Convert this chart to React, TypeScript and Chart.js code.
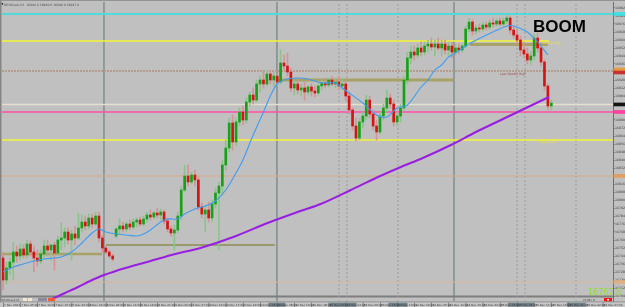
import React, { useEffect, useRef } from 'react';
import { Chart, registerables } from 'chart.js';
Chart.register(...registerables);

// ---- candle data (hourly bars) ----
const opens = [
  16742,16720,16732,16738,16748,16744,16751,16745,16756,16748,
  16742,16739,16746,16754,16750,16755,16747,16760,16762,16768,
  16760,16766,16762,16772,16778,16774,16782,16776,16784,16762,
  16752,16748,16744,16764,16771,16774,16771,16776,16773,16778,
  16780,16776,16781,16785,16783,16787,16785,16788,16779,16771,
  16767,16770,16784,16810,16824,16818,16825,16820,16793,16786,
  16790,16782,16796,16807,16814,16835,16852,16877,16858,16878,
  16888,16880,16898,16905,16900,16916,16920,16916,16926,16920,
  16924,16918,16937,16934,16928,16912,16916,16910,16912,16908,
  16913,16909,16907,16914,16917,16915,16920,16916,16918,16914,
  16916,16904,16890,16874,16862,16878,16884,16900,16886,16874,
  16868,16884,16892,16902,16896,16878,16884,16892,16920,16942,
  16948,16945,16952,16948,16954,16956,16953,16956,16952,16956,
  16950,16954,16948,16952,16950,16954,16971,16978,16969,16972,
  16971,16975,16973,16977,16976,16979,16976,16979,16982,16970,
  16965,16960,16950,16946,16940,16944,16962,16952,16938,16914,
  16894];
const highs = [
  16747,16738,16742,16758,16754,16756,16755,16760,16759,16754,
  16750,16750,16760,16760,16756,16758,16764,16777,16772,16772,
  16770,16774,16787,16785,16784,16786,16786,16788,16788,16765,
  16754,16750,16746,16772,16782,16778,16778,16780,16781,16782,
  16783,16784,16788,16790,16789,16792,16791,16790,16782,16774,
  16775,16788,16814,16835,16835,16828,16830,16823,16797,16794,
  16798,16800,16812,16818,16840,16860,16882,16885,16882,16892,
  16894,16902,16908,16912,16920,16924,16928,16930,16930,16928,
  16926,16950,16945,16947,16932,16920,16920,16916,16918,16915,
  16916,16914,16916,16920,16922,16922,16924,16922,16924,16922,
  16920,16908,16892,16882,16882,16888,16905,16904,16890,16880,
  16888,16896,16910,16906,16900,16888,16896,16924,16948,16954,
  16954,16956,16958,16958,16960,16962,16960,16962,16960,16960,
  16958,16958,16956,16956,16956,16974,16982,16980,16975,16976,
  16978,16978,16980,16982,16981,16982,16982,16985,16984,16974,
  16970,16964,16958,16952,16948,16966,16967,16954,16940,16916,
  16900];
const lows = [
  16710,16716,16725,16720,16738,16740,16742,16742,16744,16728,
  16734,16736,16742,16744,16740,16730,16744,16750,16753,16756,
  16740,16755,16760,16768,16770,16771,16772,16774,16758,16748,
  16746,16742,16739,16762,16766,16768,16768,16770,16771,16773,
  16774,16774,16778,16780,16781,16782,16780,16776,16768,16764,
  16750,16767,16780,16808,16814,16816,16814,16790,16782,16768,
  16778,16778,16792,16750,16805,16830,16848,16850,16854,16874,
  16875,16877,16894,16896,16898,16908,16912,16914,16916,16914,
  16914,16916,16930,16924,16908,16905,16906,16904,16900,16905,
  16904,16903,16905,16910,16912,16913,16914,16912,16910,16910,
  16900,16886,16870,16859,16860,16872,16880,16882,16870,16860,
  16866,16880,16888,16892,16874,16874,16878,16890,16916,16936,
  16940,16942,16944,16945,16948,16950,16944,16950,16944,16946,
  16944,16942,16945,16946,16948,16952,16968,16965,16966,16968,
  16969,16970,16971,16973,16974,16974,16974,16976,16966,16962,
  16956,16944,16942,16936,16935,16940,16948,16934,16910,16890,
  16890];
const closes = [
  16720,16732,16738,16748,16744,16751,16745,16756,16748,16742,
  16739,16746,16754,16750,16755,16747,16760,16762,16768,16760,
  16766,16762,16772,16778,16774,16782,16776,16784,16762,16752,
  16748,16744,16741,16771,16774,16771,16776,16773,16778,16780,
  16776,16781,16785,16783,16787,16785,16788,16779,16771,16767,
  16770,16784,16810,16824,16818,16825,16820,16793,16786,16790,
  16782,16796,16807,16814,16835,16852,16877,16858,16878,16888,
  16880,16898,16905,16900,16916,16920,16916,16926,16920,16924,
  16918,16937,16934,16928,16912,16916,16910,16912,16908,16913,
  16909,16907,16914,16917,16915,16920,16916,16918,16914,16916,
  16904,16890,16874,16862,16878,16884,16900,16886,16874,16868,
  16884,16892,16902,16896,16878,16884,16892,16920,16942,16948,
  16945,16952,16948,16954,16956,16953,16956,16952,16956,16950,
  16954,16948,16952,16950,16954,16971,16978,16969,16972,16971,
  16975,16973,16977,16976,16979,16976,16979,16982,16970,16965,
  16960,16950,16946,16940,16944,16962,16952,16938,16914,16894,
  16897];

// ---- moving averages (bar index, value) ----
const fastMaIdx = [0,3,6,9,12,15,17,20,23,26,28,30,33,36,39,41,43,46,48,51,53,56,59,62,65,68,70,73,76,78,80,83,87,90,93,97,99,101,105,109,112,115,118,122,124,126,128,130,132,137,143,147,149,153,156,159];
const fastMaVal = [16728,16733,16736,16739,16741,16742,16743,16748,16757,16767,16771,16768,16766,16765,16764,16766,16770,16778,16781,16781,16786,16791,16794,16799,16810,16827,16840,16865,16888,16904,16916,16921,16922,16920,16917,16917,16912,16907,16897,16885,16883,16892,16895,16913,16920,16930,16935,16943,16947,16958,16968,16974,16974,16968,16958,16945];
const slowMaIdx = [14.3,18.1,21.9,25.4,29.5,35.7,43,50.3,57.6,67.2,77.2,86.8,92.7,101.5,108.8,116.1,122.5,130.7,138,145.3,152.6,159.3];
const slowMaVal = [16701,16707,16713,16719,16725,16732,16739,16746,16752,16763,16777,16789,16796,16810,16822,16833,16842,16855,16868,16880,16892,16903];

// ---- horizontal levels ----
const fullLevels = [16986, 16929, 16895.5, 16888, 16860, 16824, 16718];
const fullLevelStyles = [
  { color: '#52dada', width: 2, dash: [] as number[] },
  { color: '#b49c8e', width: 2, dash: [2, 1] },
  { color: '#e6decf', width: 1.5, dash: [] },
  { color: '#ff4fa6', width: 1.5, dash: [] },
  { color: '#f4f438', width: 1.5, dash: [] },
  { color: '#d8aa88', width: 1.2, dash: [] },
  { color: '#d9b898', width: 1.2, dash: [] },
];
const zonePrices = [16959, 16955.5, 16920, 16746, 16755];
const zoneStart = [-0.3, 136.26, 80.24, -0.3, 30.05];
const zoneEnd = [159.3, 159.02, 131.3, 28.88, 79.36];
const zoneStyles = [
  { color: '#f4f438', width: 1.3 },
  { color: '#a8a266', width: 3 },
  { color: '#a8a266', width: 3 },
  { color: '#a8a266', width: 2.5 },
  { color: '#8e8c50', width: 1.3 },
];
const solidSeparators = [29.46, 79.94, 131.6];
const dashedSeparators = [98.04, 100.37, 115.25, 149.98, 152.32, 167.2];
const tagPrices = [16986, 16930.5, 16927.5, 16895.5, 16888, 16824, 16718];
const tagColors = ['#40e0e0', '#e89a40', '#c83030', '#141414', '#ff40a0', '#e0a060', '#e0b080'];

const timeLabels = [
  '7 Dec 2021','7 Dec 05:00','7 Dec 10:00','7 Dec 15:00','7 Dec 20:00','8 Dec 01:00',
  '8 Dec 06:00','8 Dec 11:00','8 Dec 16:00','8 Dec 21:00','9 Dec 02:00','9 Dec 07:00',
  '9 Dec 12:00','9 Dec 17:00','9 Dec 22:00','10 Dec 03:00','10 Dec 08:00','10 Dec 13:00',
  '10 Dec 18:00','10 Dec 23:00','13 Dec 04:00','13 Dec 09:00','13 Dec 14:00','13 Dec 19:00',
  '14 Dec 00:00','14 Dec 05:00','14 Dec 10:00','14 Dec 15:00','14 Dec 20:00','15 Dec 01:00',
  '15 Dec 06:00','15 Dec 11:00','15 Dec 16:00','15 Dec 21:00','16 Dec 02:00','16 Dec 07:00'];
const TIME_STEP = 5;

const X_MIN = -0.3;
const X_MAX = 178;
const Y_MIN = 16699;
const Y_MAX = 16998;

const decor = {
  id: 'decor',
  beforeDraw(chart: any) {
    const ctx = chart.ctx;
    ctx.save();
    ctx.fillStyle = '#c0c0c0';
    ctx.fillRect(0, 0, chart.width, chart.height);
    ctx.restore();
  },
  beforeDatasetsDraw(chart: any) {
    const ctx = chart.ctx;
    ctx.save();
    ctx.fillStyle = '#7e7e7e';
    ctx.fillRect(0, 295.5, chart.chartArea.right, 2);
    ctx.restore();
  },
  afterDraw(chart: any) {
    const ctx = chart.ctx;
    const xs = chart.scales.x;
    const ys = chart.scales.y;
    const right = chart.chartArea.right;
    ctx.save();
    // right axis price tags
    tagPrices.forEach((p, k) => {
      const py = ys.getPixelForValue(p);
      ctx.fillStyle = tagColors[k];
      ctx.fillRect(right + 0.5, py - 1.8, chart.width - right, 3.6);
    });
    // header text
    ctx.fillStyle = '#202020';
    ctx.fillRect(1.5, 3, 1.6, 1.6);
    ctx.fillStyle = '#505050';
    ctx.font = '3px "DejaVu Sans"';
    ctx.textBaseline = 'alphabetic';
    ctx.fillText('DE30Cash,H1  16894.0 16900.0 16890.0 16897.0', 4, 5.5);
    // annotation
    ctx.fillStyle = '#000000';
    ctx.font = 'bold 17px "Liberation Sans"';
    ctx.fillText('BOOM', 533, 32);
    ctx.font = '3px "DejaVu Sans"';
    ctx.fillStyle = '#a04848';
    ctx.fillText('Last Weekly High', 500, 74.5);
    ctx.fillStyle = '#e8e040';
    ctx.fillText('Weekly High', 542, 44);
    ctx.fillText('Weekly Low', 539, 142.5);
    // green price readout
    ctx.fillStyle = '#8fe02c';
    ctx.font = '8px "DejaVu Sans"';
    ctx.fillText('16767.8', 588, 295);
    // tabs row
    ctx.font = '2.6px "DejaVu Sans"';
    ctx.fillStyle = '#444';
    ctx.fillText('DE30Cash,H1', 2, 300.8);
    ctx.fillStyle = '#efe9d4';
    ctx.fillRect(23, 298, 4, 3.2);
    ctx.fillRect(28, 298, 4, 3.2);
    ctx.fillStyle = '#8a8a9c';
    ctx.fillRect(38, 298, 9, 3.2);
    ctx.fillStyle = '#f45a3a';
    ctx.fillRect(48, 298, 7, 3.2);
    ctx.fillStyle = '#333';
    ctx.fillText('22:09 / 0', 583, 300.8);
    ctx.fillStyle = '#ff1010';
    ctx.fillRect(604, 298, 8, 3.5);
    ctx.fillStyle = '#ffffff';
    ctx.fillRect(607, 299, 2, 1.5);
    // time axis row
    ctx.fillStyle = '#858585';
    ctx.fillRect(0, 301.5, chart.width, 1);
    ctx.fillStyle = '#c6c6c6';
    ctx.fillRect(0, 302.5, chart.width, 5);
    const boxes = [[79.94, 8.5], [99.2, 13.5], [115.25, 9.5], [151.15, 13], [167.2, 9]];
    ctx.fillStyle = '#6f8088';
    boxes.forEach(([c, hw]) => {
      const px = xs.getPixelForValue(c);
      ctx.fillRect(px - hw, 302.7, hw * 2, 4);
    });
    ctx.font = '2.8px "DejaVu Sans"';
    timeLabels.forEach((lab, k) => {
      const px = xs.getPixelForValue(k * TIME_STEP);
      ctx.fillStyle = '#555';
      ctx.fillRect(px, 302.5, 0.6, 4.5);
      ctx.fillStyle = '#383838';
      ctx.fillText(lab, px + 1, 306.2);
    });
    // frame
    ctx.fillStyle = '#858585';
    ctx.fillRect(0, 0, 1.5, 302);
    ctx.fillStyle = '#939393';
    ctx.fillRect(0, 0, chart.width, 1);
    ctx.restore();
  },
};

function buildConfig(): any {
  const up = opens.map((o, i) => closes[i] >= o);
  const levelSets: any[] = fullLevels.map((p, k) => ({
    type: 'line',
    data: [{ x: X_MIN, y: p }, { x: X_MAX, y: p }],
    borderColor: fullLevelStyles[k].color,
    borderWidth: fullLevelStyles[k].width,
    borderDash: fullLevelStyles[k].dash,
    pointRadius: 0,
    fill: false,
    order: 10,
  }));
  const zoneSets: any[] = zonePrices.map((p, k) => ({
    type: 'line',
    data: [{ x: zoneStart[k], y: p }, { x: zoneEnd[k], y: p }],
    borderColor: zoneStyles[k].color,
    borderWidth: zoneStyles[k].width,
    pointRadius: 0,
    fill: false,
    order: 9,
  }));
  const sepSets: any[] = [
    ...solidSeparators.map((s) => ({
      type: 'line',
      data: [{ x: s, y: Y_MIN - 5 }, { x: s, y: Y_MAX + 5 }],
      borderColor: '#6f8282',
      borderWidth: 1.2,
      pointRadius: 0,
      order: 11,
    })),
    ...dashedSeparators.map((s) => ({
      type: 'line',
      data: [{ x: s, y: Y_MIN - 5 }, { x: s, y: Y_MAX + 5 }],
      borderColor: '#9c9c9c',
      borderWidth: 1,
      borderDash: [2, 2],
      pointRadius: 0,
      order: 11,
    })),
  ];
  const wicks = {
    type: 'bar',
    data: opens.map((_, i) => ({ x: i, y: [lows[i], highs[i]] })),
    backgroundColor: up.map((u) => (u ? '#8cc48c' : '#d49494')),
    barThickness: 1,
    grouped: false,
    borderWidth: 0,
    order: 5,
  };
  const bodies = {
    type: 'bar',
    data: opens.map((o, i) => ({ x: i, y: [o, closes[i]] })),
    backgroundColor: up.map((u) => (u ? '#18a018' : '#d41414')),
    barThickness: 2,
    grouped: false,
    borderWidth: 0,
    minBarLength: 1,
    order: 4,
  };
  const fast = {
    type: 'line',
    data: fastMaIdx.map((x, k) => ({ x, y: fastMaVal[k] })),
    borderColor: '#3f9cf0',
    borderWidth: 1.1,
    pointRadius: 0,
    tension: 0.3,
    fill: false,
    order: 2,
  };
  const slow = {
    type: 'line',
    data: slowMaIdx.map((x, k) => ({ x, y: slowMaVal[k] })),
    borderColor: '#9a1ee0',
    borderWidth: 2,
    pointRadius: 0,
    tension: 0.3,
    fill: false,
    order: 1,
  };
  return {
    type: 'bar',
    data: { datasets: [...sepSets, ...levelSets, ...zoneSets, wicks, bodies, fast, slow] },
    options: {
      animation: false,
      responsive: false,
      devicePixelRatio: 1,
      layout: { padding: { left: 2, top: 2, right: 0, bottom: 6 } },
      plugins: { legend: { display: false }, tooltip: { enabled: false } },
      scales: {
        x: { type: 'linear', min: X_MIN, max: X_MAX, offset: false, display: false },
        y: {
          type: 'linear',
          position: 'right',
          min: Y_MIN,
          max: Y_MAX,
          grid: { display: true, drawOnChartArea: false, tickLength: 1.5, color: '#555' },
          border: { display: true, color: '#6e6e6e', width: 1 },
          ticks: {
            stepSize: 8,
            maxTicksLimit: 100,
            includeBounds: false,
            autoSkip: false,
            font: { size: 3.2, family: 'DejaVu Sans' },
            color: '#3c3c3c',
            padding: 0.5,
            callback: (v: any) => Number(v).toFixed(1),
          },
          afterFit: (s: any) => {
            s.width = 12;
            s.paddingTop = 0;
            s.paddingBottom = 0;
          },
        },
      },
    },
    plugins: [decor],
  };
}

export default function App() {
  const ref = useRef<HTMLCanvasElement>(null);
  useEffect(() => {
    if (!ref.current) return;
    const chart = new Chart(ref.current, buildConfig());
    return () => chart.destroy();
  }, []);
  return (
    <div style={{ position: 'fixed', left: 0, top: 0, width: 625, height: 307, background: '#c0c0c0' }}>
      <canvas ref={ref} width={625} height={307} style={{ display: 'block', width: 625, height: 307 }} />
    </div>
  );
}
